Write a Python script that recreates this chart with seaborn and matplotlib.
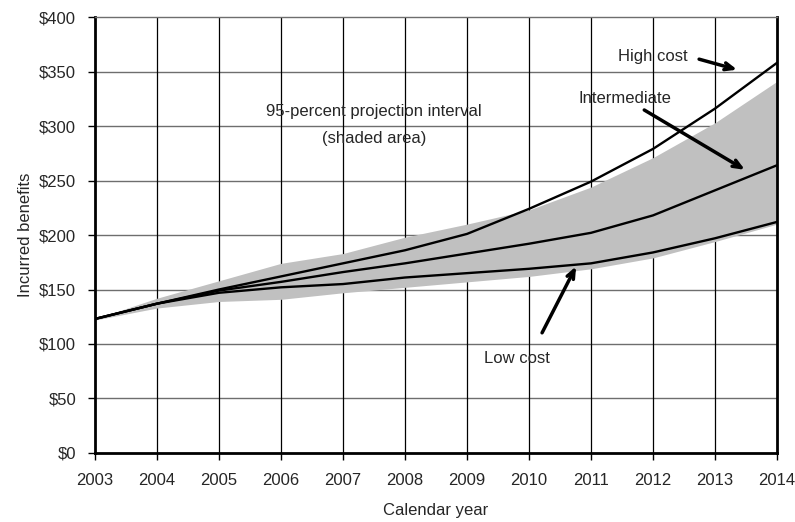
import numpy as np
import pandas as pd
import matplotlib
matplotlib.use("Agg")
import matplotlib.pyplot as plt
import seaborn as sns

# Data
years = [2003, 2004, 2005, 2006, 2007, 2008, 2009, 2010, 2011, 2012, 2013, 2014]
high_cost = [123, 137, 150, 162, 174, 186, 201, 224, 249, 279, 316, 358]
intermediate = [123, 137, 149, 157, 166, 174, 183, 192, 202, 218, 241, 264]
low_cost = [123, 137, 147, 152, 155, 161, 165, 169, 174, 184, 197, 212]
band_upper = [123, 142, 158, 174, 183, 198, 210, 223, 244, 271, 303, 341]
band_lower = [122, 133, 139, 141, 147, 152, 157, 162, 169, 179, 194, 210]
y_ticks = [0, 50, 100, 150, 200, 250, 300, 350, 400]

sns.set_style("white")
plt.rcParams['font.family'] = ['Liberation Sans', 'DejaVu Sans']

df = pd.DataFrame({"year": years * 3,
                   "value": high_cost + intermediate + low_cost,
                   "scenario": ["High"] * 12 + ["Intermediate"] * 12 + ["Low"] * 12})

fig = plt.figure(figsize=(7.95, 5.22), dpi=100)
ax = fig.add_axes([0.1195, 0.1322, 0.8579, 0.8352])

# shaded projection interval
ax.fill_between(years, band_lower, band_upper, color="#c0c0c0", lw=0, zorder=1)

# grid
for y in y_ticks[1:-1]:
    ax.axhline(y, color="#6e6e6e", lw=1, zorder=0.5)
for x in years[1:-1]:
    ax.axvline(x, color="black", lw=0.9, zorder=0.5)

sns.lineplot(data=df, x="year", y="value", units="scenario", estimator=None,
             color="black", lw=1.7, ax=ax, zorder=3, legend=False)

ax.set_xlim(2003, 2014)
ax.set_ylim(0, 400)
ax.set_xticks(years)
ax.set_xticklabels([str(y) for y in years])
ax.set_yticks(y_ticks)
ax.set_yticklabels(["$" + str(y) for y in y_ticks])
ax.tick_params(axis="both", direction="out", length=5, width=1, labelsize=12,
               color="black", bottom=True, left=True)
ax.tick_params(axis="x", pad=9.5)
ax.tick_params(axis="y", pad=8.5)
ax.set_xlabel("Calendar year", fontsize=12, labelpad=10.5)
ax.set_ylabel("Incurred benefits", fontsize=12, labelpad=4.5)

for side in ["left", "bottom", "right"]:
    ax.spines[side].set_color("black")
    ax.spines[side].set_linewidth(2)
ax.spines["top"].set_color("#6e6e6e")
ax.spines["top"].set_linewidth(1)

# annotations
ax.text(2007.5, 313, "95-percent projection interval", ha="center", va="center", fontsize=12)
ax.text(2007.5, 289, "(shaded area)", ha="center", va="center", fontsize=12)

arrow = dict(arrowstyle="->, head_width=0.25, head_length=0.6", color="black", lw=2.5)
ax.text(2012.0, 363.5, "High cost", ha="center", va="center", fontsize=12)
ax.annotate("", xy=(2013.4, 351), xytext=(2012.7, 362), arrowprops=arrow)
ax.text(2011.55, 325.5, "Intermediate", ha="center", va="center", fontsize=12)
ax.annotate("", xy=(2013.52, 258.5), xytext=(2011.82, 316), arrowprops=arrow)
ax.text(2009.8, 87, "Low cost", ha="center", va="center", fontsize=12)
ax.annotate("", xy=(2010.78, 173.5), xytext=(2010.19, 108), arrowprops=arrow)

fig.savefig("out.png", dpi=100)
